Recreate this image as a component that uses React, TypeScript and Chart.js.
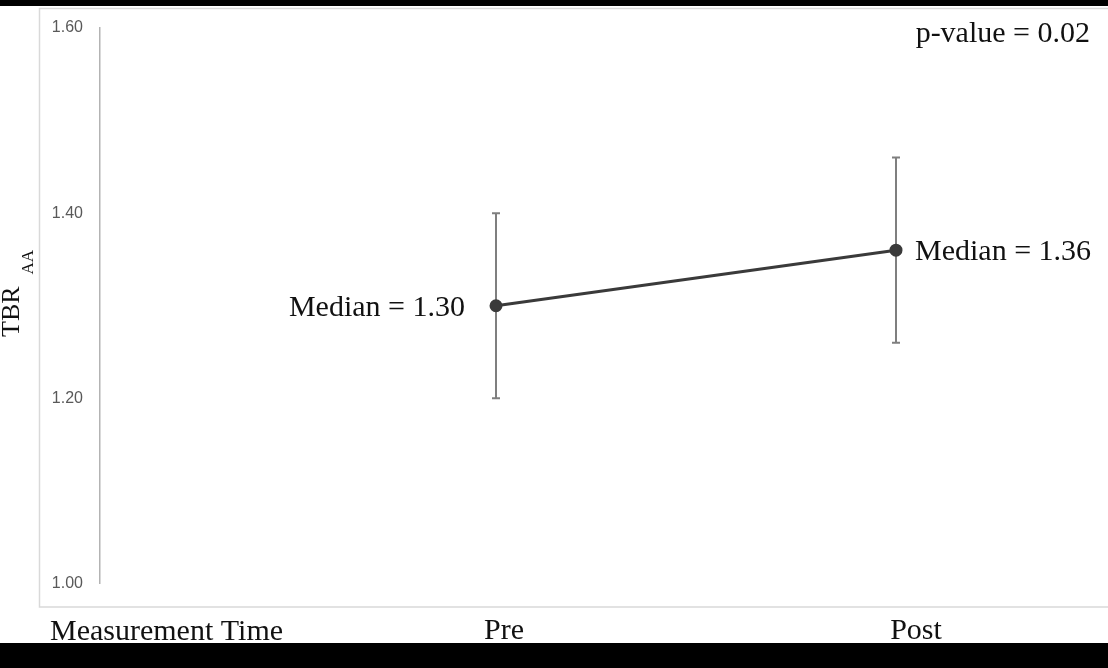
import React, { useEffect, useRef } from "react";
import { Chart, registerables } from "chart.js";

Chart.register(...registerables);

const categories = ["Pre", "Post"];
const categoryX = [1, 2];
const medians = [1.30, 1.36];
const errLow = [1.20, 1.26];
const errHigh = [1.40, 1.46];
const yTicks = [1.0, 1.2, 1.4, 1.6];
const medianLabels = ["Median = 1.30", "Median = 1.36"];
const pValueText = "p-value = 0.02";
const xAxisHeader = "Measurement Time";
const yTitleMain = "TBR";
const yTitleSub = "AA";

const SERIF = "'Liberation Serif', 'Times New Roman', serif";

const decorPlugin = {
  id: "decor",
  beforeDraw(chart: any) {
    const { ctx, width, height } = chart;
    ctx.save();
    ctx.fillStyle = "#000";
    ctx.fillRect(0, 0, width, height);
    ctx.fillStyle = "#fff";
    ctx.fillRect(0, 6, width, 637);
    ctx.strokeStyle = "#d9d9d9";
    ctx.lineWidth = 1.5;
    ctx.beginPath();
    ctx.moveTo(width + 2, 8.5);
    ctx.lineTo(39.5, 8.5);
    ctx.lineTo(39.5, 607);
    ctx.lineTo(width + 2, 607);
    ctx.stroke();
    ctx.restore();
  },
  beforeDatasetsDraw(chart: any) {
    const { ctx } = chart;
    const xs = chart.scales.x;
    const ys = chart.scales.y;
    ctx.save();
    ctx.strokeStyle = "#7f7f7f";
    ctx.lineWidth = 2;
    categoryX.forEach((cx, i) => {
      const px = xs.getPixelForValue(cx);
      const top = ys.getPixelForValue(errHigh[i]);
      const bot = ys.getPixelForValue(errLow[i]);
      ctx.beginPath();
      ctx.moveTo(px, top);
      ctx.lineTo(px, bot);
      ctx.moveTo(px - 4, top);
      ctx.lineTo(px + 4, top);
      ctx.moveTo(px - 4, bot);
      ctx.lineTo(px + 4, bot);
      ctx.stroke();
    });
    ctx.restore();
  },
  afterDraw(chart: any) {
    const { ctx } = chart;
    const xs = chart.scales.x;
    const ys = chart.scales.y;
    ctx.save();
    ctx.fillStyle = "#111";
    ctx.font = `30px ${SERIF}`;
    ctx.textBaseline = "alphabetic";

    // median labels
    const p0x = xs.getPixelForValue(categoryX[0]);
    const p0y = ys.getPixelForValue(medians[0]);
    ctx.textAlign = "right";
    ctx.fillText(medianLabels[0], p0x - 31, p0y + 10);
    const p1x = xs.getPixelForValue(categoryX[1]);
    const p1y = ys.getPixelForValue(medians[1]);
    ctx.textAlign = "left";
    ctx.fillText(medianLabels[1], p1x + 19, p1y + 10);

    // p-value
    ctx.textAlign = "right";
    ctx.fillText(pValueText, 1090, 42);

    // category labels row
    ctx.textAlign = "left";
    ctx.fillText(xAxisHeader, 50, 640);
    ctx.textAlign = "center";
    ctx.fillText(categories[0], p0x + 8, 639);
    ctx.fillText(categories[1], p1x + 20, 639);

    // y title with subscript
    ctx.translate(19, 337);
    ctx.rotate(-Math.PI / 2);
    ctx.textAlign = "left";
    ctx.font = `26px ${SERIF}`;
    ctx.fillText(yTitleMain, 0, 0);
    const w = ctx.measureText(yTitleMain).width;
    ctx.font = `17px ${SERIF}`;
    ctx.fillText(yTitleSub, w + 12, 14);
    ctx.restore();
  },
};

export default function App() {
  const ref = useRef<HTMLCanvasElement | null>(null);
  useEffect(() => {
    if (!ref.current) return;
    const chart = new Chart(ref.current, {
      type: "line",
      data: {
        datasets: [
          {
            data: categoryX.map((x, i) => ({ x, y: medians[i] })),
            borderColor: "#3a3a3a",
            backgroundColor: "#3a3a3a",
            borderWidth: 3,
            pointRadius: 5,
            pointBackgroundColor: "#3a3a3a",
            pointBorderColor: "#3a3a3a",
            tension: 0,
          },
        ],
      },
      options: {
        responsive: false,
        animation: false,
        events: [],
        layout: { padding: { left: 0, top: 28, right: 0, bottom: 84.5 } },
        plugins: { legend: { display: false }, tooltip: { enabled: false } },
        scales: {
          x: {
            type: "linear",
            min: 0.01,
            max: 2.51,
            display: false,
          },
          y: {
            type: "linear",
            min: yTicks[0],
            max: yTicks[yTicks.length - 1],
            afterFit: (s: any) => {
              s.width = 100;
            },
            afterBuildTicks: (s: any) => {
              s.ticks = yTicks.map((v) => ({ value: v }));
            },
            grid: { display: false, drawTicks: false },
            border: { display: true, color: "#b3b3b3", width: 1.5 },
            ticks: {
              padding: 17,
              color: "#595959",
              font: { family: "'Liberation Sans', Arial, sans-serif", size: 16 },
              callback: (v: any) => Number(v).toFixed(2),
            },
          },
        },
      },
      plugins: [decorPlugin],
    });
    return () => chart.destroy();
  }, []);
  return (
    <div style={{ position: "fixed", left: 0, top: 0, width: 1108, height: 668 }}>
      <canvas ref={ref} width={1108} height={668} style={{ width: 1108, height: 668, display: "block" }} />
    </div>
  );
}
